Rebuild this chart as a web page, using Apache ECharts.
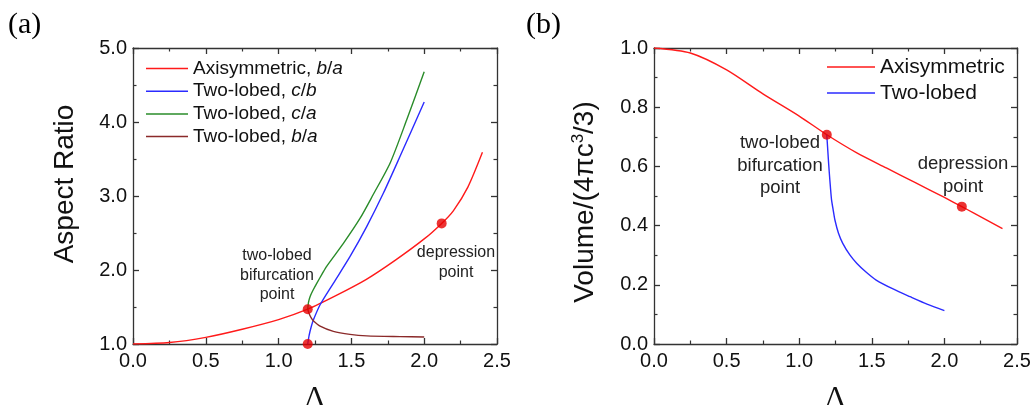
<!DOCTYPE html>
<html>
<head>
<meta charset="utf-8">
<script src="https://cdn.jsdelivr.net/npm/echarts@6/dist/echarts.min.js"></script>
<style>
html,body{margin:0;padding:0;background:#fff;}
#c{width:1033px;height:405px;}
</style>
</head>
<body>
<div id="c"></div>
<script>
// ---------- Data (a): Aspect ratio vs Lambda ----------
const axiRatioX = [0, 0.25, 0.5, 0.75, 1.0, 1.2, 1.4, 1.6, 1.8, 2.0, 2.12, 2.2, 2.3, 2.4];
const axiRatioY = [1.0, 1.02, 1.09, 1.2, 1.33, 1.47, 1.66, 1.87, 2.13, 2.42, 2.63, 2.8, 3.12, 3.59];

const cbX = [1.2, 1.21, 1.225, 1.24, 1.285, 1.376, 1.49, 1.606, 1.72, 1.835, 2.0];
const cbY = [1.0, 1.12, 1.24, 1.33, 1.53, 1.82, 2.18, 2.59, 3.04, 3.54, 4.27];

const caX = [1.2, 1.205, 1.216, 1.24, 1.262, 1.3, 1.33, 1.445, 1.56, 1.65, 1.767, 1.88, 2.0];
const caY = [1.47, 1.56, 1.64, 1.74, 1.82, 1.95, 2.05, 2.36, 2.70, 3.02, 3.45, 4.03, 4.68];

const baX = [1.2, 1.21, 1.225, 1.24, 1.285, 1.376, 1.49, 1.606, 1.835, 2.0];
const baY = [1.47, 1.41, 1.35, 1.31, 1.24, 1.17, 1.13, 1.11, 1.10, 1.095];

const dotsAX = [1.2, 1.2, 2.12];
const dotsAY = [1.47, 1.0, 2.63];

// ---------- Data (b): Volume vs Lambda ----------
const axiVolX = [0, 0.25, 0.5, 0.75, 1.0, 1.19, 1.4, 1.6, 1.8, 2.0, 2.12, 2.2, 2.4];
const axiVolY = [1.0, 0.983, 0.926, 0.845, 0.77, 0.707, 0.645, 0.595, 0.545, 0.495, 0.464, 0.443, 0.39];

const twoVolX = [1.19, 1.2, 1.207, 1.215, 1.223, 1.235, 1.246, 1.27, 1.30, 1.35, 1.396, 1.46, 1.53, 1.65, 1.763, 1.88, 2.0];
const twoVolY = [0.707, 0.63, 0.58, 0.53, 0.486, 0.45, 0.419, 0.375, 0.34, 0.30, 0.273, 0.243, 0.216, 0.185, 0.16, 0.135, 0.113];

const dotsBX = [1.19, 2.12];
const dotsBY = [0.707, 0.464];

// ---------- Axis ticks ----------
const xTicks = [0.0, 0.5, 1.0, 1.5, 2.0, 2.5];
const yTicksA = [1.0, 2.0, 3.0, 4.0, 5.0];
const yTicksB = [0.0, 0.2, 0.4, 0.6, 0.8, 1.0];

const namesA = ['Axisymmetric, b/a', 'Two-lobed, c/b', 'Two-lobed, c/a', 'Two-lobed, b/a'];
const namesB = ['Axisymmetric', 'Two-lobed'];

const RED = '#ff1a1a', BLUE = '#2b2bff', GREEN = '#2a8c2a', BROWN = '#8b2a2a', DOT = '#e60000';
const AX = '#333333', TXT = '#111111';
const SANS = '"Liberation Sans", Arial, sans-serif';
const SERIF = '"Liberation Serif", "Times New Roman", serif';

function zip(xs, ys){ return xs.map((x,i)=>[x, ys[i]]); }

function mkX(grid, pos, show, name){
  return {
    type:'value', gridIndex:grid, position:pos,
    min: xTicks[0], max: xTicks[xTicks.length-1], interval: 0.5,
    axisLine:{show:true, onZero:false, lineStyle:{color:AX, width:1.3}},
    axisTick:{show:true, inside:true, length:6, lineStyle:{color:AX, width:1.3}},
    minorTick:{show:true, splitNumber:2, length:3.5, lineStyle:{color:AX, width:1.2}},
    splitLine:{show:false},
    axisLabel:{show:show, margin:7, color:TXT, fontSize:20, fontFamily:SANS,
      formatter: v => v.toFixed(1), showMinLabel:true, showMaxLabel:true},
    name: name || '', nameLocation:'middle', nameGap:39,
    nameTextStyle:{fontFamily:SERIF, fontSize:30, color:TXT}
  };
}
function mkY(grid, pos, show, min, max, interval){
  return {
    type:'value', gridIndex:grid, position:pos, min:min, max:max, interval:interval,
    axisLine:{show:true, onZero:false, lineStyle:{color:AX, width:1.3}},
    axisTick:{show:true, inside:true, length:6, lineStyle:{color:AX, width:1.3}},
    minorTick:{show:true, splitNumber:2, length:3.5, lineStyle:{color:AX, width:1.2}},
    splitLine:{show:false},
    axisLabel:{show:show, margin:6, color:TXT, fontSize:20, fontFamily:SANS,
      formatter: v => v.toFixed(1), showMinLabel:true, showMaxLabel:true}
  };
}

function lineSeries(name, xs, ys, color, xi, yi){
  return {
    type:'line', name:name, xAxisIndex:xi, yAxisIndex:yi,
    data: zip(xs, ys), showSymbol:false, symbol:'none', smooth:0.25,
    lineStyle:{color:color, width:1.4}, itemStyle:{color:color},
    z:3, silent:true
  };
}

const legendFmt = name => {
  const m = name.match(/^(.*, )(\w)\/(\w)$/);
  if (!m) return '{n|' + name + '}';
  return '{n|' + m[1] + '}{i|' + m[2] + '}{n|/}{i|' + m[3] + '}';
};

const option = {
  animation:false,
  backgroundColor:'#ffffff',
  grid:[
    {left:133, top:48, width:364, height:296, outerBoundsMode:'none', containLabel:false},
    {left:654, top:48, width:363, height:296, outerBoundsMode:'none', containLabel:false}
  ],
  xAxis:[
    mkX(0,'bottom',true,'Λ'),
    mkX(0,'top',false),
    mkX(1,'bottom',true,'Λ'),
    mkX(1,'top',false)
  ],
  yAxis:[
    mkY(0,'left',true, yTicksA[0], yTicksA[yTicksA.length-1], 1),
    mkY(0,'right',false, yTicksA[0], yTicksA[yTicksA.length-1], 1),
    mkY(1,'left',true, yTicksB[0], yTicksB[yTicksB.length-1], 0.2),
    mkY(1,'right',false, yTicksB[0], yTicksB[yTicksB.length-1], 0.2)
  ],
  legend:[
    {
      data: namesA.map(n=>({name:n, icon:'rect'})),
      orient:'vertical', left:146, top:59, padding:0, itemWidth:42, itemHeight:1.5, itemGap:3.7,
      formatter: legendFmt, selectedMode:false,
      textStyle:{color:TXT,
        rich:{ n:{fontFamily:SANS, fontSize:19, color:TXT},
               i:{fontFamily:SANS, fontSize:19, fontStyle:'italic', color:TXT} } }
    },
    {
      data: namesB.map(n=>({name:n, icon:'rect'})),
      orient:'vertical', left:827, top:54, padding:0, itemWidth:48, itemHeight:1.5, itemGap:0,
      selectedMode:false,
      textStyle:{color:TXT, fontFamily:SANS, fontSize:21, lineHeight:26}
    }
  ],
  series:[
    lineSeries(namesA[0], axiRatioX, axiRatioY, RED, 0, 0),
    lineSeries(namesA[1], cbX, cbY, BLUE, 0, 0),
    lineSeries(namesA[2], caX, caY, GREEN, 0, 0),
    lineSeries(namesA[3], baX, baY, BROWN, 0, 0),
    {type:'scatter', xAxisIndex:0, yAxisIndex:0, data:zip(dotsAX, dotsAY), symbolSize:10,
     itemStyle:{color:DOT}, z:5, silent:true},
    lineSeries(namesB[0], axiVolX, axiVolY, RED, 2, 2),
    lineSeries(namesB[1], twoVolX, twoVolY, BLUE, 2, 2),
    {type:'scatter', xAxisIndex:2, yAxisIndex:2, data:zip(dotsBX, dotsBY), symbolSize:10,
     itemStyle:{color:DOT}, z:5, silent:true}
  ],
  graphic:[
    {type:'text', left:8, top:10, style:{text:'(a)', font:'30px ' + SERIF, fill:'#000'}},
    {type:'text', left:526, top:10, style:{text:'(b)', font:'30px ' + SERIF, fill:'#000'}},
    {type:'text', x:65, y:184, rotation:Math.PI/2,
      style:{text:'Aspect Ratio', font:'28px ' + SANS, fill:TXT, align:'center', verticalAlign:'middle'}},
    {type:'text', x:585, y:202, rotation:Math.PI/2,
      style:{text:'{a|Volume/(4πc}{s|3}{a|/3)}', fill:TXT, align:'center', verticalAlign:'middle',
        rich:{
          a:{fontFamily:SANS, fontSize:28, fill:TXT, lineHeight:30},
          s:{fontFamily:SANS, fontSize:17, fill:TXT, verticalAlign:'top', lineHeight:30}
        }}},
    {type:'text', x:277, y:246, style:{text:'two-lobed\nbifurcation\npoint', font:'16px ' + SANS,
      fill:'#222', align:'center', lineHeight:19.5}},
    {type:'text', x:456, y:243, style:{text:'depression\npoint', font:'16px ' + SANS,
      fill:'#222', align:'center', lineHeight:19.5}},
    {type:'text', x:780, y:132, style:{text:'two-lobed\nbifurcation\npoint', font:'18.5px ' + SANS,
      fill:'#222', align:'center', lineHeight:22.5}},
    {type:'text', x:963, y:153, style:{text:'depression\npoint', font:'18.5px ' + SANS,
      fill:'#222', align:'center', lineHeight:22.5}}
  ]
};

const chart = echarts.init(document.getElementById('c'), null, {renderer:'canvas'});
chart.setOption(option);
</script>
</body>
</html>
